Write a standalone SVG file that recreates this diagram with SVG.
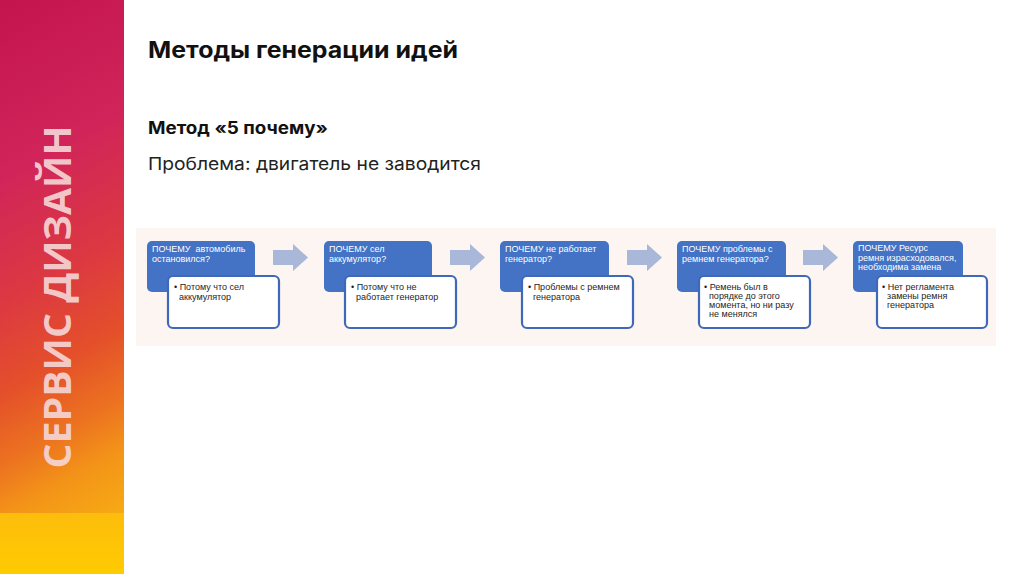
<svg xmlns="http://www.w3.org/2000/svg" width="1024" height="574" viewBox="0 0 1024 574">
<defs>
<linearGradient id="strip" x1="0" y1="0" x2="0.12" y2="1">
<stop offset="0" stop-color="#c4144f"/>
<stop offset="0.3" stop-color="#d0245a"/>
<stop offset="0.52" stop-color="#dc3842"/>
<stop offset="0.68" stop-color="#e4502a"/>
<stop offset="0.8" stop-color="#ec7220"/>
<stop offset="0.89" stop-color="#f39418"/>
<stop offset="1" stop-color="#f7aa14"/>
</linearGradient>
<linearGradient id="band" x1="0" y1="0" x2="0" y2="1">
<stop offset="0" stop-color="#fcbd0c"/>
<stop offset="1" stop-color="#ffcb00"/>
</linearGradient>
<path id="arr" d="M0,6 H20 V0 L35,13.5 L20,27 V21 H0 Z"/>
</defs>
<style>
.blue{fill:#4472c4;}
.card{fill:#ffffff;stroke:#3f69b8;stroke-width:2.2;}
.qt{font-family:"Liberation Sans",Arial,sans-serif;font-size:9px;fill:#ffffff;white-space:pre;}
.at{font-family:"Liberation Sans",Arial,sans-serif;font-size:9px;fill:#1e1e1e;white-space:pre;}
.arrow{fill:#a9b7d8;}
</style>
<rect x="0" y="0" width="1024" height="574" fill="#ffffff"/>
<rect x="0" y="0" width="124" height="574" fill="url(#strip)"/>
<rect x="0" y="513" width="124" height="61" fill="url(#band)"/>
<text transform="translate(71,297) rotate(-90)" text-anchor="middle" font-family="'Open Sans','DejaVu Sans',sans-serif" font-weight="700" font-size="37" fill="#f6d6d6" fill-opacity="0.92" textLength="343" lengthAdjust="spacingAndGlyphs">СЕРВИС ДИЗАЙН</text>

<text x="148" y="58" font-family="Inter,'Open Sans',sans-serif" font-weight="700" font-size="22.5" fill="#111111" textLength="310" lengthAdjust="spacingAndGlyphs">Методы генерации идей</text>
<text x="148" y="134" font-family="Inter,'Open Sans',sans-serif" font-weight="700" font-size="17" fill="#111111" textLength="180" lengthAdjust="spacingAndGlyphs">Метод «5 почему»</text>
<text x="148" y="170" font-family="Inter,'Open Sans',sans-serif" font-size="17.5" fill="#222222" textLength="333" lengthAdjust="spacingAndGlyphs">Проблема: двигатель не заводится</text>

<rect x="136" y="228" width="860" height="118" fill="#fcf5f1"/>

<g id="connectors">
<use href="#arr" class="arrow" x="273" y="244"/>
<use href="#arr" class="arrow" x="450" y="244"/>
<use href="#arr" class="arrow" x="627" y="244"/>
<use href="#arr" class="arrow" x="803" y="244"/>
</g>

<g id="node1">
<rect class="blue" x="147" y="241" width="108" height="51" rx="5"/>
<text class="qt" x="152" y="252">ПОЧЕМУ  автомобиль</text>
<text class="qt" x="152" y="262">остановился?</text>
<rect class="card" x="168" y="276" width="111" height="52" rx="5"/>
<text class="at" x="174" y="290">• Потому что сел</text>
<text class="at" x="179" y="299.5">аккумулятор</text>
</g>

<g id="node2">
<rect class="blue" x="324" y="241" width="108" height="51" rx="5"/>
<text class="qt" x="329" y="252">ПОЧЕМУ сел</text>
<text class="qt" x="329" y="262">аккумулятор?</text>
<rect class="card" x="345" y="276" width="111" height="52" rx="5"/>
<text class="at" x="351" y="290">• Потому что не</text>
<text class="at" x="356" y="299.5">работает генератор</text>
</g>

<g id="node3">
<rect class="blue" x="500" y="241" width="109" height="51" rx="5"/>
<text class="qt" x="505" y="252">ПОЧЕМУ не работает</text>
<text class="qt" x="505" y="262">генератор?</text>
<rect class="card" x="522" y="276" width="111" height="52" rx="5"/>
<text class="at" x="528" y="290">• Проблемы с ремнем</text>
<text class="at" x="533" y="299.5">генератора</text>
</g>

<g id="node4">
<rect class="blue" x="677" y="241" width="109" height="51" rx="5"/>
<text class="qt" x="682" y="252">ПОЧЕМУ проблемы с</text>
<text class="qt" x="682" y="262">ремнем генератора?</text>
<rect class="card" x="699" y="276" width="111" height="52" rx="5"/>
<text class="at" x="704" y="290">• Ремень был в</text>
<text class="at" x="709" y="299">порядке до этого</text>
<text class="at" x="709" y="308">момента, но ни разу</text>
<text class="at" x="709" y="317">не менялся</text>
</g>

<g id="node5">
<rect class="blue" x="853" y="241" width="110" height="51" rx="5"/>
<text class="qt" x="858" y="251">ПОЧЕМУ Ресурс</text>
<text class="qt" x="858" y="261" font-size="8.6">ремня израсходовался,</text>
<text class="qt" x="858" y="269.5" font-size="8.6">необходима замена</text>
<rect class="card" x="877" y="276" width="110" height="52" rx="5"/>
<text class="at" x="882" y="290">• Нет регламента</text>
<text class="at" x="887" y="299">замены ремня</text>
<text class="at" x="887" y="308">генератора</text>
</g>
</svg>
